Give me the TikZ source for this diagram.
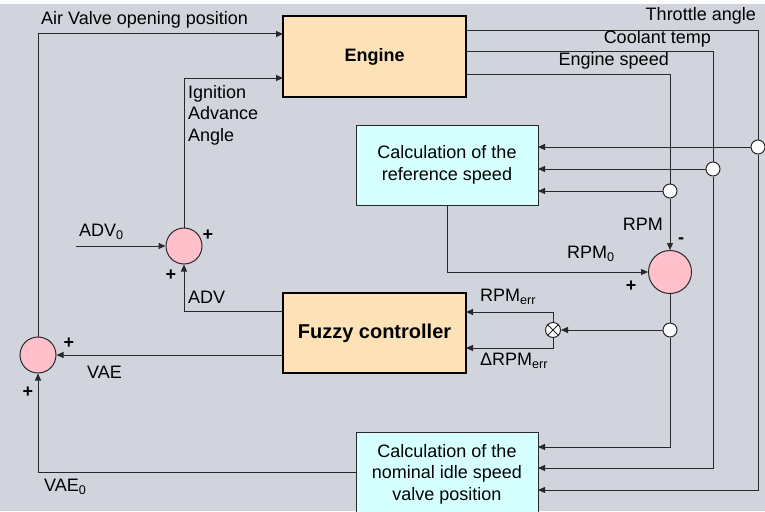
\documentclass[tikz,border=0pt]{standalone}
\usepackage{fontspec}
\setmainfont{Liberation Sans}
\usetikzlibrary{arrows.meta}
\definecolor{bgc}{RGB}{209,212,220}
\definecolor{peach}{RGB}{253,226,184}
\definecolor{cyanbox}{RGB}{214,255,255}
\definecolor{pinkc}{RGB}{255,192,203}
\definecolor{lnc}{RGB}{40,40,40}
\begin{document}
\begin{tikzpicture}[x=1pt,y=-1pt,
  every node/.style={font=\fontsize{18}{21.5}\selectfont, inner sep=0pt},
  ln/.style={draw=lnc, line width=1pt},
  arr/.style={ln, -{Triangle[length=7pt,width=6pt]}},
  bigbox/.style={draw=black, line width=2.5pt, fill=peach, minimum width=183pt, minimum height=81pt, font=\fontsize{18}{22}\selectfont\bfseries},
  calcbox/.style={draw=lnc, line width=1pt, fill=cyanbox, minimum width=182pt, minimum height=80pt, align=center},
  sumc/.style={circle, draw=lnc, line width=1pt, fill=pinkc},
  junc/.style={circle, draw=lnc, line width=1pt, fill=white, minimum size=14pt},
  lbl/.style={anchor=west},
  sgn/.style={font=\fontsize{18}{20}\selectfont\bfseries}
]
\useasboundingbox (0,0) rectangle (765,511);
\fill[bgc] (0,4) rectangle (765,511);

% blocks
\node[bigbox] (eng) at (374.5,56.5) {Engine};
\node[bigbox, minimum height=80pt, font=\fontsize{20}{24}\selectfont\bfseries] (fuz) at (374.5,333) {Fuzzy controller};
\node[calcbox] (ref) at (447,165) {Calculation of the\\reference speed};
\node[calcbox, minimum height=84pt] (nom) at (447,474) {Calculation of the\\nominal idle speed\\valve position};

% summing points
\node[sumc, minimum size=36pt] (s1) at (184,246) {};
\node[sumc, minimum size=43pt] (s2) at (670,272) {};
\node[sumc, minimum size=36pt] (s3) at (38,355) {};

% junctions
\node[junc] (j1) at (758,147) {};
\node[junc] (j2) at (713,169) {};
\node[junc] (j3) at (670,191) {};
\node[junc] (j4) at (670,330) {};
\node[junc, minimum size=15pt] (m) at (553,330) {};
\draw[ln] (m.45) -- (m.225) (m.135) -- (m.-45);

% port coordinates
\coordinate (eAV) at (283,34);
\coordinate (eIG) at (283,78);
\coordinate (eTH) at (466,31);
\coordinate (eCO) at (466,52);
\coordinate (eSP) at (466,74);
\coordinate (rTH) at (538,147);
\coordinate (rCO) at (538,169);
\coordinate (rSP) at (538,191);
\coordinate (rOut) at (447,205);
\coordinate (nSP) at (538,447);
\coordinate (nCO) at (538,468);
\coordinate (nTH) at (538,490);
\coordinate (nOut) at (356,472);
\coordinate (fE) at (466,312);
\coordinate (fdE) at (466,348);
\coordinate (fADV) at (283,311);
\coordinate (fVAE) at (283,355);
\coordinate (adv0) at (76,246);

% engine outputs
\draw[ln] (eTH) -| (j1.north);
\draw[ln] (eCO) -| (j2.north);
\draw[ln] (eSP) -| (j3.north);
\draw[arr] (j1.west) -- (rTH);
\draw[arr] (j2.west) -- (rCO);
\draw[arr] (j3.west) -- (rSP);
\draw[arr] (j1.south) |- (nTH);
\draw[arr] (j2.south) |- (nCO);
\draw[arr] (j3.south) -- (s2.north);
\draw[ln] (s2.south) -- (j4.north);
\draw[arr] (j4.south) |- (nSP);
\draw[arr] (j4.west) -- (m.east);
\draw[arr] (m.north) |- (fE);
\draw[arr] (m.south) |- (fdE);
\draw[arr] (rOut) |- (s2.west);

% left side
\draw[arr] (adv0) -- (s1.west);
\draw[arr] (fADV) -| (s1.south);
\draw[arr] (s1.north) |- (eIG);
\draw[arr] (fVAE) -- (s3.east);
\draw[arr] (nOut) -| (s3.south);
\draw[arr] (s3.north) |- (eAV);

% labels
\node[lbl] (tAV) at (41,20) {Air Valve opening position};
\node[anchor=north west, align=left] (tIG) at (188,85) {Ignition\\Advance\\Angle};
\node[anchor=east] (tTH) at (756,16) {Throttle angle};
\node[anchor=east] (tCO) at (711,39) {Coolant temp};
\node[anchor=east] (tSP) at (669,61) {Engine speed};
\node[anchor=east] (tRPM) at (663,224) {RPM};
\node[sgn] (m1) at (681,241) {-};
\node[lbl] (tRPM0) at (567,254) {RPM\textsubscript{0}};
\node[sgn] (p1) at (631,286) {+};
\node[lbl] (tErr) at (480,297) {RPM\textsubscript{err}};
\node[lbl] (tdErr) at (480,361) {ΔRPM\textsubscript{err}};
\node[lbl] (tADV0) at (79,232) {ADV\textsubscript{0}};
\node[sgn] (p2) at (208,235) {+};
\node[sgn] (p3) at (171,275) {+};
\node[lbl] (tADV) at (188,297) {ADV};
\node[sgn] (p4) at (69,343) {+};
\node[sgn] (p5) at (28,392) {+};
\node[lbl] (tVAE) at (87,372) {VAE};
\node[lbl] (tVAE0) at (44,487) {VAE\textsubscript{0}};
\end{tikzpicture}
\end{document}
